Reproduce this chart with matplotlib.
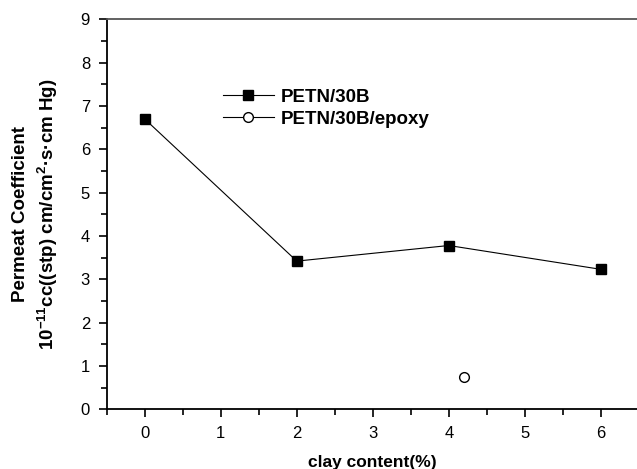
import matplotlib
matplotlib.use('Agg')
import matplotlib.pyplot as plt
from matplotlib.ticker import MultipleLocator
from matplotlib.lines import Line2D

plt.rcParams['font.family'] = ['Liberation Sans', 'DejaVu Sans']
plt.rcParams['mathtext.default'] = 'regular'

# data
clay = [0, 2, 4, 6]
perm = [6.70, 3.42, 3.78, 3.23]
clay_epoxy = [4.2]
perm_epoxy = [0.75]

fig = plt.figure(figsize=(6.37, 4.69), dpi=100)
ax = fig.add_axes([0.1675, 0.1273, 0.8355, 0.8315])

ax.plot(clay, perm, color='black', lw=0.8, marker='s', ms=7,
        mfc='black', mec='black', label='PETN/30B')
ax.plot(clay_epoxy, perm_epoxy, color='black', lw=0.8, marker='o', ms=7,
        mfc='white', mec='black', linestyle='none', label='PETN/30B/epoxy')

ax.set_xlim(-0.5, 6.5)
ax.set_ylim(0, 9)
ax.xaxis.set_major_locator(MultipleLocator(1))
ax.xaxis.set_minor_locator(MultipleLocator(0.5))
ax.yaxis.set_major_locator(MultipleLocator(1))
ax.yaxis.set_minor_locator(MultipleLocator(0.5))
ax.tick_params(which='major', direction='out', length=6, width=1.2, labelsize=12, pad=6)
ax.tick_params(which='minor', direction='out', length=4, width=1.2)

ax.spines['right'].set_visible(False)
ax.spines['top'].set_color('#555555')
for s in ['left', 'bottom', 'top']:
    ax.spines[s].set_linewidth(1.3)

ax.set_xlabel('clay content(%)', fontsize=12.5, fontweight='bold', labelpad=10)
ax.set_ylabel('Permeat Coefficient\n$10^{-11}$cc((stp) cm/cm$^{2}$·s·cm Hg)',
              fontsize=13.5, fontweight='bold', labelpad=15, linespacing=1.35)

# legend with the empty circle line like the original
h1 = ax.get_lines()[0]
h2 = Line2D([], [], color='black', lw=0.8, marker='o', ms=7, mfc='white', mec='black')
ax.legend([h1, h2], ['PETN/30B', 'PETN/30B/epoxy'], loc='upper left',
          bbox_to_anchor=(0.187, 0.865), frameon=False, handlelength=2.7,
          prop={'weight': 'bold', 'size': 13.5}, labelspacing=0.25, handletextpad=0.4)

fig.savefig('out.png', dpi=100)
